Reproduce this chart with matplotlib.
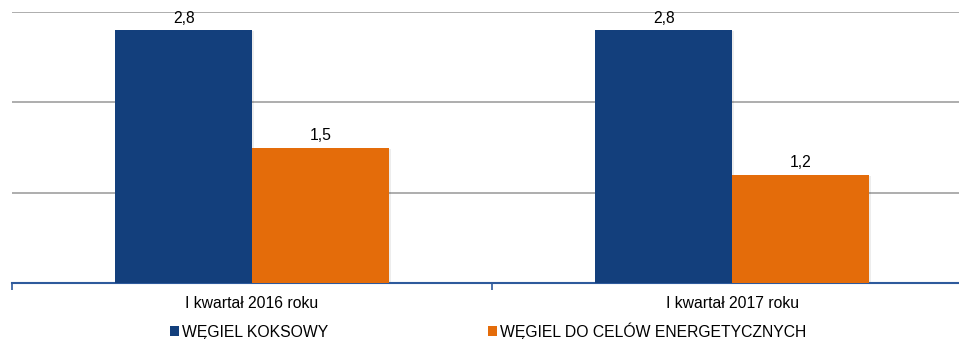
import numpy as np
import matplotlib.pyplot as plt
from matplotlib.patches import Patch

plt.rcParams['font.family'] = ['Liberation Sans', 'DejaVu Sans']

# dane
kategorie = ['I kwartał 2016 roku', 'I kwartał 2017 roku']
koksowy = [2.8, 2.8]
energetyczny = [1.5, 1.2]
serie = ['WĘGIEL KOKSOWY', 'WĘGIEL DO CELÓW ENERGETYCZNYCH']

kolor_nieb = '#133F7C'
kolor_pom = '#E46C0A'

fig = plt.figure(figsize=(9.59, 3.39), dpi=100)
ax = fig.add_axes([12 / 959, 56 / 339, 960 / 959, 271 / 339])

x = np.arange(len(kategorie))
w = 0.285

# delikatny cien pod slupkami
for dx, vals in [(-w / 2, koksowy), (w / 2, energetyczny)]:
    ax.bar(x + dx + 0.004, vals, w, bottom=-0.015, color='#000000', alpha=0.07, zorder=2)

b1 = ax.bar(x - w / 2, koksowy, w, color=kolor_nieb, zorder=3)
b2 = ax.bar(x + w / 2, energetyczny, w, color=kolor_pom, zorder=3)

for rects, vals in [(b1, koksowy), (b2, energetyczny)]:
    for r, v in zip(rects, vals):
        ax.text(r.get_x() + r.get_width() / 2, v + 0.05, f'{v:.1f}'.replace('.', ','),
                ha='center', va='bottom', fontsize=11.3, color='#000000', zorder=4)

ax.set_xlim(-0.5, 1.5)
ax.set_ylim(0, 3)
ax.set_yticks([1, 2, 3])
ax.yaxis.grid(True, color='#A0A0A0', linewidth=1.2)
ax.set_axisbelow(True)
ax.tick_params(axis='y', length=0, labelleft=False)

ax.set_xticks([-0.5, 0.5, 1.5], minor=False)
ax.set_xticklabels([])
ax.tick_params(axis='x', length=5, color='#2E5A9C', width=1.2)
ax.set_xticks(x, minor=True)
ax.set_xticklabels(kategorie, minor=True, fontsize=11.3)
ax.tick_params(axis='x', which='minor', length=0, pad=9)

for s in ['top', 'right', 'left']:
    ax.spines[s].set_visible(False)
ax.spines['bottom'].set_color('#2E5A9C')
ax.spines['bottom'].set_linewidth(1.5)

uchwyty = [Patch(facecolor=kolor_nieb), Patch(facecolor=kolor_pom)]
fig.legend(uchwyty, serie, loc='center left', bbox_to_anchor=(170 / 959, 8 / 339),
           ncol=2, frameon=False, fontsize=11.3, handlelength=0.55, handleheight=0.55,
           handletextpad=0.2, columnspacing=10.2, borderpad=0, borderaxespad=0)

fig.savefig('out.png', dpi=100)
